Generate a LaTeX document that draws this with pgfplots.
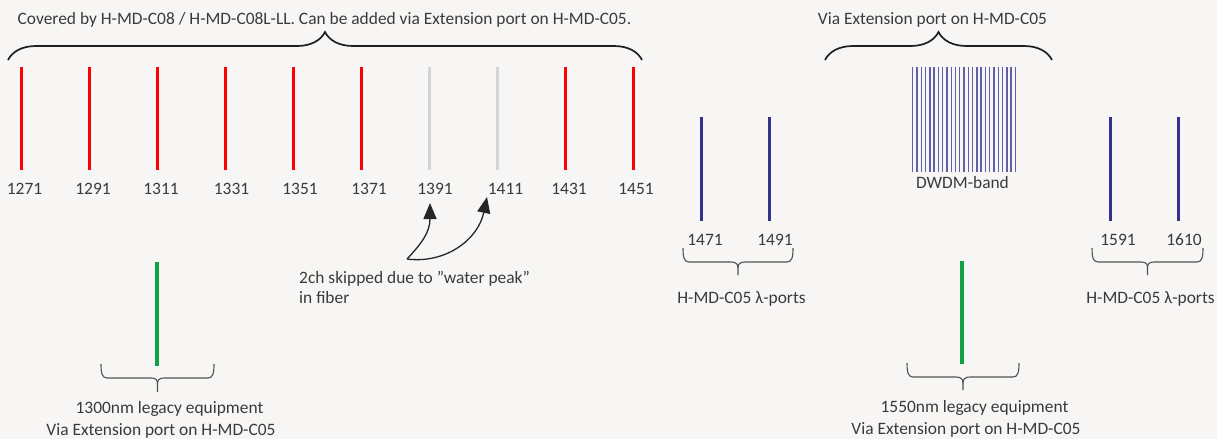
\documentclass[border=0pt]{standalone}
\usepackage{pgfplots}
\pgfplotsset{compat=1.18}
\usepackage{pgfplotstable}
\usepackage{fontspec}
\setmainfont{Carlito}
\usetikzlibrary{decorations.pathreplacing,arrows.meta}
\definecolor{bg}{RGB}{247,246,244}
\definecolor{txt}{RGB}{58,58,58}
\definecolor{cwdmred}{RGB}{255,0,0}
\definecolor{skipgray}{RGB}{212,212,212}
\definecolor{lamblue}{RGB}{50,50,140}
\definecolor{dwdm}{RGB}{95,95,170}
\definecolor{legacy}{RGB}{16,160,70}

% x = pixel position, y = top of line, h = length (pixel units, y down)
\pgfplotstableread{
x y h
21 67 103
89 67 103
157 67 103
225 67 103
293 67 103
361 67 103
565 67 103
633 67 103
}\redlines
\pgfplotstableread{
x y h
429 67 103
497 67 103
}\graylines
\pgfplotstableread{
x y h
701 117 104
769 117 104
1110 117 104
1178 117 104
}\bluelines
\pgfplotstableread{
x y h
912.7 67 105
917.0 67 105
921.3 67 105
925.5 67 105
929.8 67 105
934.1 67 105
938.4 67 105
942.6 67 105
946.9 67 105
951.2 67 105
955.5 67 105
959.7 67 105
964.0 67 105
968.3 67 105
972.6 67 105
976.8 67 105
981.1 67 105
985.4 67 105
989.7 67 105
993.9 67 105
998.2 67 105
1002.5 67 105
1006.8 67 105
1011.0 67 105
1015.3 67 105
}\dwdmlines
\pgfplotstableread{
x y h
157 262 104
962 261 103
}\legacylines

\begin{document}
\begin{tikzpicture}[
  lbl/.style={font=\fontsize{17.4pt}{21pt}\selectfont, text=txt, inner sep=0pt, anchor=base},
  topbrace/.style={decorate, decoration={brace, amplitude=28pt}, line width=1.7pt, draw=black!88},
  botbrace/.style={line width=1.1pt, draw=black!68},
]
\begin{axis}[
  name=ax,
  scale only axis, width=1217pt, height=439pt,
  xmin=0, xmax=1217, ymin=0, ymax=439, y dir=reverse,
  hide axis, clip=false,
]
\fill[bg] (rel axis cs:0,0) rectangle (rel axis cs:1,1);

\addplot[cwdmred, line width=3pt, quiver={u=0, v=\thisrow{h}}] table[x=x, y=y] {\redlines};
\addplot[skipgray, line width=3pt, quiver={u=0, v=\thisrow{h}}] table[x=x, y=y] {\graylines};
\addplot[lamblue, line width=3pt, quiver={u=0, v=\thisrow{h}}] table[x=x, y=y] {\bluelines};
\addplot[dwdm, line width=1.4pt, quiver={u=0, v=\thisrow{h}}] table[x=x, y=y] {\dwdmlines};
\addplot[legacy, line width=3.5pt, quiver={u=0, v=\thisrow{h}}] table[x=x, y=y] {\legacylines};

% top braces
\draw[topbrace] (8,60) -- (642,60);
\draw[topbrace] (825,60) -- (1052,60);

% bottom braces (square ends, small cusp)
\draw[botbrace] (683,248) .. controls (683,257) and (684,262) .. (689,262) -- (731,262)
  .. controls (736,262) and (738,264) .. (738,268) -- (738,275);
\draw[botbrace] (793,248) .. controls (793,257) and (792,262) .. (787,262) -- (745,262)
  .. controls (740,262) and (738,264) .. (738,268);

\draw[botbrace] (1092,248) .. controls (1092,257) and (1093,262) .. (1098,262) -- (1141,262)
  .. controls (1146,262) and (1147.5,264) .. (1147.5,268) -- (1147.5,275);
\draw[botbrace] (1203,248) .. controls (1203,257) and (1202,262) .. (1197,262) -- (1154,262)
  .. controls (1149,262) and (1147.5,264) .. (1147.5,268);

\draw[botbrace] (101,364) .. controls (101,373) and (102,378) .. (107,378) -- (151,378)
  .. controls (156,378) and (157.5,380) .. (157.5,384) -- (157.5,392);
\draw[botbrace] (214,364) .. controls (214,373) and (213,378) .. (208,378) -- (164,378)
  .. controls (159,378) and (157.5,380) .. (157.5,384);

\draw[botbrace] (907,363) .. controls (907,372) and (908,377) .. (913,377) -- (956,377)
  .. controls (961,377) and (963,379) .. (963,383) -- (963,390);
\draw[botbrace] (1019,363) .. controls (1019,372) and (1018,377) .. (1013,377) -- (970,377)
  .. controls (965,377) and (963,379) .. (963,383);

% top texts
\node[lbl] at (324.5,24) {Covered by H-MD-C08 / H-MD-C08L-LL. Can be added via Extension port on H-MD-C05.};
\node[lbl] at (932.5,24) {Via Extension port on H-MD-C05};

% wavelength labels
\node[lbl] at (24.5,194) {1271};
\node[lbl] at (93,194) {1291};
\node[lbl] at (161,194) {1311};
\node[lbl] at (231.5,194) {1331};
\node[lbl] at (300,194) {1351};
\node[lbl] at (369,194) {1371};
\node[lbl] at (435,194) {1391};
\node[lbl] at (505.5,194) {1411};
\node[lbl] at (569,194) {1431};
\node[lbl] at (636,194) {1451};
\node[lbl] at (705,245) {1471};
\node[lbl] at (775,245) {1491};
\node[lbl] at (1118,245) {1591};
\node[lbl] at (1184,245) {1610};
\node[lbl] at (962.5,188.5) {DWDM-band};

\node[lbl] at (741.5,303) {H-MD-C05 λ-ports};
\node[lbl] at (1150.5,303) {H-MD-C05 λ-ports};

\node[lbl, anchor=base west] at (299,283) {2ch skipped due to ”water peak”};
\node[lbl, anchor=base west] at (299,303) {in fiber};

\node[lbl] at (169.5,413) {1300nm legacy equipment};
\node[lbl] at (161,435) {Via Extension port on H-MD-C05};
\node[lbl] at (974.5,412) {1550nm legacy equipment};
\node[lbl] at (966,434) {Via Extension port on H-MD-C05};

% arrows
\draw[black!85, line width=1.3pt, -{Triangle[length=16pt,width=13pt]}]
  (407,259) .. controls (422,243) and (430,232) .. (430,203);
\draw[black!85, line width=1.3pt, -{Triangle[length=16pt,width=13pt]}]
  (407,259) .. controls (445,264) and (478,240) .. (487,197);
\end{axis}
\pgfresetboundingbox
\useasboundingbox (ax.south west) rectangle (ax.north east);
\end{tikzpicture}
\end{document}
